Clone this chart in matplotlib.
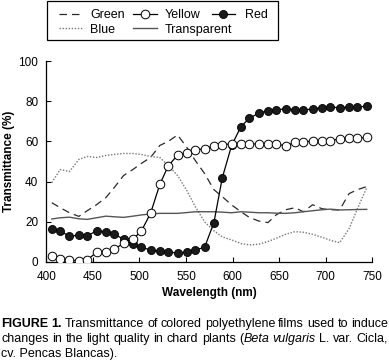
import matplotlib
matplotlib.use('Agg')
import matplotlib.pyplot as plt
from matplotlib.patches import Rectangle

FAM = ['Liberation Sans Narrow', 'Liberation Sans', 'DejaVu Sans']
plt.rcParams['font.family'] = FAM

# ---------------- data ----------------
wavelength = [406, 415, 425, 435, 444, 454, 464, 473, 483, 493,
              502, 512, 522, 531, 541, 551, 560, 570, 580, 589,
              599, 609, 618, 628, 638, 647, 657, 667, 676, 686,
              696, 705, 715, 725, 734, 744]
green = [29.5, 27, 24.5, 22.7, 25.5, 28.5, 32, 37, 43, 46,
         49, 52, 58, 60, 63.2, 57, 50.5, 44, 36, 32.5,
         28.4, 25, 22.2, 20.4, 19.6, 23.5, 26, 27, 25, 28.5,
         26.5, 26, 25.9, 34, 36, 37.5]
blue = [39.5, 46, 45, 51, 52.5, 52, 53, 53.5, 54, 54,
        53.5, 52.5, 52, 48, 43, 35.5, 27.5, 20, 15.5, 12.5,
        11, 9.2, 8.5, 8.8, 10.2, 11.8, 13.8, 15.1, 14.8, 13.8,
        12.3, 10.8, 9.6, 16.5, 26.5, 37]
yellow = [3.0, 1.6, 1.0, 0.6, 1.0, 4.8, 4.8, 6.3, 9.3, 11.4,
          15.3, 24.2, 38.7, 47.8, 53.2, 54.4, 55.7, 56.4, 57.7, 58.2,
          58.9, 58.7, 58.7, 58.7, 58.9, 58.7, 57.8, 59.5, 59.9, 60.0,
          60.4, 60.4, 61.2, 61.5, 61.5, 62.0]
red = [16.3, 15.3, 12.9, 13.3, 13.1, 15.4, 15.1, 13.9, 11.3, 8.8,
       7.3, 6.0, 5.3, 4.8, 4.6, 4.8, 6.0, 7.3, 19.6, 41.9,
       58, 67.3, 71.5, 74.0, 75.3, 75.6, 76.3, 75.8, 75.5, 76.2,
       76.7, 77.0, 76.8, 77.0, 77.1, 77.5]
transparent = [21.4, 22, 22.3, 21.5, 21.2, 22, 22.8, 22.5, 22.2, 22.8,
               23.4, 23.9, 24.2, 24.2, 24.2, 24.6, 25, 25, 25, 24.8,
               24.5, 25, 24.8, 24.5, 24.5, 24.3, 24.2, 24.5, 25, 25.5,
               26, 26.3, 25.9, 26, 26.1, 26.2]

xticks = [400, 450, 500, 550, 600, 650, 700, 750]
yticks = [0, 20, 40, 60, 80, 100]

STY = {
    'Green': dict(color='#2a2a2a', lw=0.9, ls=(0, (6, 4))),
    'Blue': dict(color='#777777', lw=1.0, ls=(0, (1, 1.2))),
    'Transparent': dict(color='#555555', lw=1.0, ls='-'),
    'Red': dict(color='black', lw=0.9, marker='o', ms=5.8, mfc='#1a1a1a', mec='black', mew=0.6),
    'Yellow': dict(color='black', lw=0.9, marker='o', ms=6.2, mfc='white', mec='black', mew=0.7),
}

W, H = 389, 364
fig = plt.figure(figsize=(W / 100, H / 100), dpi=100)
ax = fig.add_axes([46.2 / W, 1 - 262 / H, (372.3 - 46.2) / W, (262 - 61) / H])

ax.plot(wavelength, green, **STY['Green'])
ax.plot(wavelength, blue, **STY['Blue'])
ax.plot(wavelength, transparent, **STY['Transparent'])
ax.plot(wavelength, red, zorder=3, **STY['Red'])
ax.plot(wavelength, yellow, zorder=4, **STY['Yellow'])

ax.set_xlim(400, 750)
ax.set_ylim(0, 100)
ax.set_xticks(xticks)
ax.set_yticks(yticks)
ax.tick_params(direction='in', length=3.5, width=0.8, labelsize=8.5)
ax.tick_params(axis='x', pad=6.3)
ax.tick_params(axis='y', pad=5.8)
for s in ['top', 'right']:
    ax.spines[s].set_visible(False)
for s in ['left', 'bottom']:
    ax.spines[s].set_linewidth(0.9)
ax.set_xlabel('Wavelength (nm)', fontsize=8.5, fontweight='bold', labelpad=3)
ax.set_ylabel('Transmittance (%)', fontsize=8.5, fontweight='bold', labelpad=2.5)

# ---------------- manual legend (pixel overlay) ----------------
ov = fig.add_axes([0, 0, 1, 1], zorder=5)
ov.set_xlim(0, W)
ov.set_ylim(H, 0)
ov.axis('off')
ov.add_patch(Rectangle((47.3, 1.3), 230.4, 39, fill=False, lw=0.9, ec='black'))
entries = [
    ('Green', 59, 14, 90, 18.3),
    ('Blue', 59, 28.3, 90, 32.7),
    ('Yellow', 133.3, 14, 165, 18.3),
    ('Transparent', 133.3, 28.3, 165, 32.7),
    ('Red', 212, 14, 245.3, 18.3),
]
for name, hx, hy, tx, ty in entries:
    st = dict(STY[name])
    marker = st.pop('marker', None)
    ms = st.pop('ms', None); mfc = st.pop('mfc', None); mec = st.pop('mec', None); mew = st.pop('mew', None)
    ov.plot([hx, hx + 23.5], [hy, hy], **st)
    if marker:
        ov.plot([hx + 11.5], [hy], marker=marker, ms=ms, mfc=mfc, mec=mec, mew=mew, ls='none')
    ov.text(tx, ty, name, fontsize=9, va='baseline', ha='left')

# ---------------- justified caption ----------------
renderer = fig.canvas.get_renderer()
cap_fs = 9
lines = [
    [("FIGURE", 'bold', 'normal'), ("1.", 'bold', 'normal'), ("Transmittance", 'normal', 'normal'),
     ("of", 'normal', 'normal'), ("colored", 'normal', 'normal'), ("polyethylene", 'normal', 'normal'),
     ("films", 'normal', 'normal'), ("used", 'normal', 'normal'), ("to", 'normal', 'normal'),
     ("induce", 'normal', 'normal')],
    [("changes", 'normal', 'normal'), ("in", 'normal', 'normal'), ("the", 'normal', 'normal'),
     ("light", 'normal', 'normal'), ("quality", 'normal', 'normal'), ("in", 'normal', 'normal'),
     ("chard", 'normal', 'normal'), ("plants", 'normal', 'normal'), ("(Beta", 'normal', 'italic_b'),
     ("vulgaris", 'normal', 'italic'), ("L.", 'normal', 'normal'), ("var.", 'normal', 'normal'),
     ("Cicla,", 'normal', 'normal')],
]
x0, x1 = 1.0, 388.0
baselines = [327.3, 341.8]
for words, yb in zip(lines, baselines):
    objs = []
    for w, weight, style in words:
        if style == 'italic_b':
            t1 = fig.text(0, 1 - yb / H, '(', fontsize=cap_fs, va='baseline', ha='left')
            t2 = fig.text(0, 1 - yb / H, w[1:], fontsize=cap_fs, va='baseline', ha='left', style='italic')
            objs.append([t1, t2])
        else:
            t = fig.text(0, 1 - yb / H, w, fontsize=cap_fs, va='baseline', ha='left',
                         fontweight=weight, style=style)
            objs.append([t])
    widths = [sum(t.get_window_extent(renderer).width for t in grp) for grp in objs]
    gap = (x1 - x0 - sum(widths)) / (len(objs) - 1)
    x = x0
    for grp, wd in zip(objs, widths):
        xx = x
        for t in grp:
            t.set_x(xx / W)
            xx += t.get_window_extent(renderer).width
        x += wd + gap
fig.text(x0 / W, 1 - 356.5 / H, 'cv. Pencas Blancas).', fontsize=cap_fs, va='baseline', ha='left')

fig.savefig('out.png', dpi=100)
